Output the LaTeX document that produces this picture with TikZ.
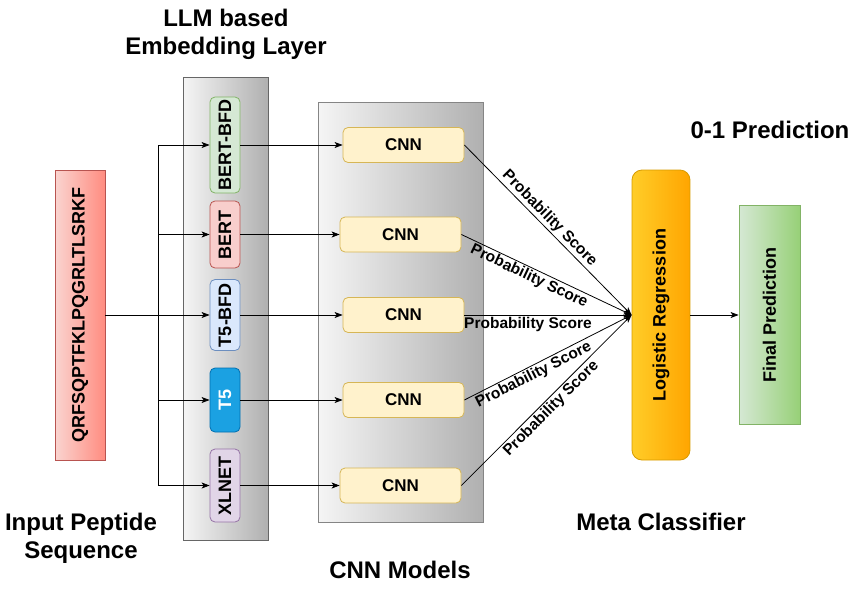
\documentclass[tikz,border=0pt]{standalone}
\usepackage{fontspec}
\setmainfont{Liberation Sans}
\usetikzlibrary{arrows.meta}
\definecolor{inL}{HTML}{FAD4D0}
\definecolor{inR}{HTML}{FF8C80}
\definecolor{inB}{HTML}{B85450}
\definecolor{grL}{HTML}{F5F5F5}
\definecolor{grR}{HTML}{B0B0B0}
\definecolor{grB}{HTML}{666666}
\definecolor{gF}{HTML}{D5E8D4}
\definecolor{gB}{HTML}{82B366}
\definecolor{rF}{HTML}{F8CECC}
\definecolor{rB}{HTML}{B85450}
\definecolor{bF}{HTML}{DAE8FC}
\definecolor{bB}{HTML}{6C8EBF}
\definecolor{tF}{HTML}{1BA1E2}
\definecolor{tB}{HTML}{006EAF}
\definecolor{pF}{HTML}{E1D5E7}
\definecolor{pB}{HTML}{9673A6}
\definecolor{yF}{HTML}{FFF2CC}
\definecolor{yB}{HTML}{D6B656}
\definecolor{oL}{HTML}{FFCD28}
\definecolor{oR}{HTML}{FFA500}
\definecolor{oB}{HTML}{D79B00}
\definecolor{fR}{HTML}{97D077}
\begin{document}
\begin{tikzpicture}[x=1pt,y=-1pt,
  shape box/.style={draw, line width=0.8pt, inner sep=0pt, rectangle},
  vtext/.style={rotate=90, inner sep=0pt, font=\bfseries\fontsize{18}{20}\selectfont},
  embbox/.style={shape box, rounded corners=5pt, minimum width=30pt},
  cnnbox/.style={shape box, rounded corners=5pt, fill=yF, draw=yB, minimum width=121pt, minimum height=35pt, font=\bfseries\fontsize{17}{19}\selectfont},
  layer/.style={shape box, left color=grL, right color=grR, draw=grB},
  title/.style={align=center, font=\bfseries\fontsize{24}{28}\selectfont, inner sep=0pt},
  conn/.style={line width=0.8pt, -{Stealth[length=8pt,width=6pt,inset=2pt]}},
  plab/.style={font=\bfseries\fontsize{15.5}{18}\selectfont, inner sep=1.5pt, sloped}
]
\useasboundingbox (0,0) rectangle (855,590);

% layers
\node[layer, minimum width=85pt, minimum height=463pt] (emblayer) at (225.5,308.5) {};
\node[layer, minimum width=165pt, minimum height=420pt, draw=grB!80] (cnnlayer) at (400.5,312) {};

% input
\node[shape box, left color=inL, right color=inR, draw=inB, minimum width=50pt, minimum height=290pt] (inp) at (80,315) {};
\node[vtext] (inpt) at (inp.center) {QRFSQPTFKLPQGRLTLSRKF};

% embedding boxes
\node[embbox, fill=gF, draw=gB, minimum height=96pt] (e1) at (225,145) {};
\node[vtext] (e1t) at (e1.center) {BERT-BFD};
\node[embbox, fill=rF, draw=rB, minimum height=67pt] (e2) at (225,234.5) {};
\node[vtext] (e2t) at (e2.center) {BERT};
\node[embbox, fill=bF, draw=bB, minimum height=71pt] (e3) at (225,315) {};
\node[vtext] (e3t) at (e3.center) {T5-BFD};
\node[embbox, fill=tF, draw=tB, minimum height=64pt] (e4) at (225,400) {};
\node[vtext, text=white] (e4t) at (e4.center) {T5};
\node[embbox, fill=pF, draw=pB, minimum height=73pt] (e5) at (225,485.5) {};
\node[vtext] (e5t) at (e5.center) {XLNET};

% CNN boxes
\node[cnnbox] (c1) at (403.5,145) {CNN};
\node[cnnbox] (c2) at (400.5,234.5) {CNN};
\node[cnnbox] (c3) at (403.5,315) {CNN};
\node[cnnbox] (c4) at (403.5,400) {CNN};
\node[cnnbox] (c5) at (400.5,485.5) {CNN};

% meta classifier
\node[shape box, rounded corners=10pt, left color=oL, right color=oR, draw=oB, minimum width=58pt, minimum height=290pt] (lr) at (661,315) {};
\node[vtext] (lrt) at (lr.center) {Logistic Regression};
\node[shape box, left color=gF, right color=fR, draw=gB, minimum width=61pt, minimum height=219pt] (fp) at (769.5,315) {};
\node[vtext] (fpt) at (fp.center) {Final Prediction};

% titles
\node[title] (t1) at (226,34) {LLM based\\Embedding Layer};
\node[title] (t2) at (770,130) {0-1 Prediction};
\node[title] (t3) at (81,538) {Input Peptide\\Sequence};
\node[title] (t4) at (400,570) {CNN Models};
\node[title] (t5) at (661,522) {Meta Classifier};

% connectors input -> embeddings
\coordinate (sp) at (158,315);
\draw[conn] (inp.east) -- (e3.west);
\draw[conn] (sp) |- (e1.west);
\draw[conn] (sp) |- (e2.west);
\draw[conn] (sp) |- (e4.west);
\draw[conn] (sp) |- (e5.west);

% embeddings -> CNN
\draw[conn] (e1.east) -- (c1.west);
\draw[conn] (e2.east) -- (c2.west);
\draw[conn] (e3.east) -- (c3.west);
\draw[conn] (e4.east) -- (c4.west);
\draw[conn] (e5.east) -- (c5.west);

% CNN -> LR
\draw[conn] (c1.east) -- node[plab, above, pos=0.47] (p1) {Probability Score} (lr.west);
\draw[conn] (c2.east) -- node[plab, below, pos=0.42] (p2) {Probability Score} (lr.west);
\draw[conn] (c3.east) -- node[plab, below, pos=0.38] (p3) {Probability Score} (lr.west);
\draw[conn] (c4.east) -- node[plab, below, pos=0.39] (p4) {Probability Score} (lr.west);
\draw[conn] (c5.east) -- node[plab, below, pos=0.49] (p5) {Probability Score} (lr.west);

% LR -> final
\draw[conn] (lr.east) -- (fp.west);
\end{tikzpicture}
\end{document}
